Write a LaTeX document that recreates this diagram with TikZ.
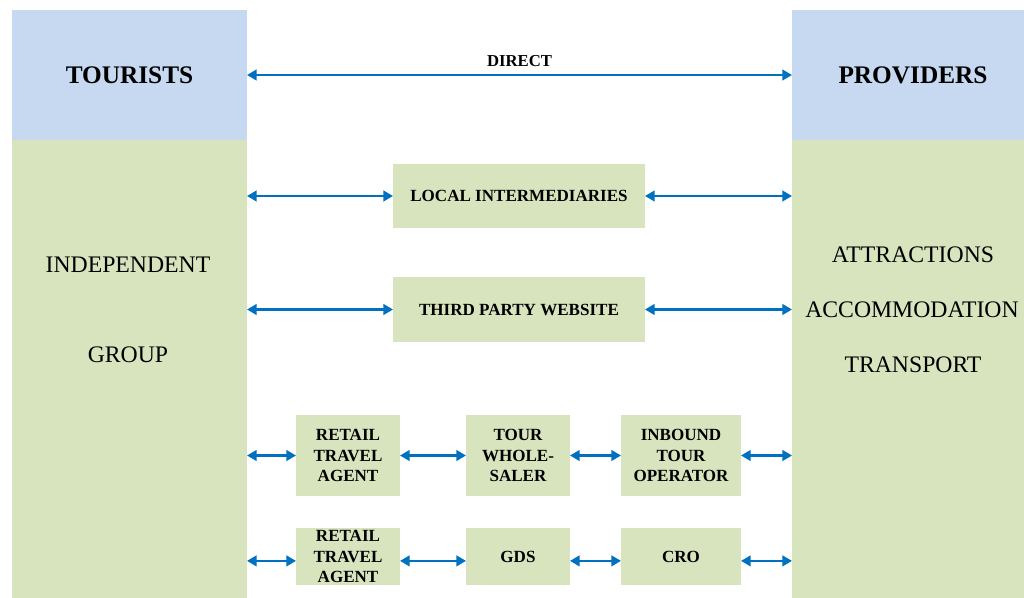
\documentclass[tikz,border=0pt]{standalone}
\usepackage{fontspec}
\setmainfont{Liberation Serif}
\usetikzlibrary{arrows.meta}
\definecolor{hdrblue}{RGB}{198,217,240}
\definecolor{boxgreen}{RGB}{215,228,189}
\definecolor{arrblue}{RGB}{0,112,192}
\begin{document}
\begin{tikzpicture}[x=0.02cm,y=-0.02cm,
  panel/.style={rectangle, inner sep=0pt, outer sep=0pt},
  hdr/.style={panel, fill=hdrblue, font=\fontsize{14.4}{17}\selectfont\bfseries},
  col/.style={panel, fill=boxgreen},
  box/.style={panel, fill=boxgreen, font=\fontsize{9.7}{11.7}\selectfont\bfseries, align=center},
  big/.style={inner sep=0pt, font=\fontsize{13.5}{16}\selectfont},
  lbl/.style={inner sep=0pt, font=\fontsize{9.5}{11}\selectfont\bfseries},
  link/.style={draw=arrblue, line width=1.4pt, {Triangle[width=6pt,length=5.5pt]}-{Triangle[width=6pt,length=5.5pt]}},
  low/.style={yshift=-2.5pt}
]
\useasboundingbox (0,0) rectangle (1024,598);
% columns
\node[hdr, minimum width=4.7cm, minimum height=2.6cm] (tour) at (129.5,75) {TOURISTS};
\node[col, minimum width=4.7cm, minimum height=9.16cm] (tcol) at (129.5,369) {};
\node[hdr, minimum width=4.64cm, minimum height=2.6cm] (prov) at (908,75) {\hspace*{5.7pt}PROVIDERS};
\node[col, minimum width=4.64cm, minimum height=9.16cm] (pcol) at (908,369) {};
% column texts
\node[big] (indep) at (128,265) {INDEPENDENT};
\node[big] (group) at (128,355) {GROUP};
\node[big] (attr) at (913,255) {ATTRACTIONS};
\node[big] (accom) at (912,310) {ACCOMMODATION};
\node[big] (trans) at (913,365) {TRANSPORT};
% middle boxes
\node[box, minimum width=5.04cm, minimum height=1.28cm] (local) at (519,196) {LOCAL INTERMEDIARIES};
\node[box, minimum width=5.04cm, minimum height=1.3cm] (third) at (519,309.5) {THIRD PARTY WEBSITE};
\node[box, minimum width=2.08cm, minimum height=1.62cm] (rta1) at (348,455.5) {RETAIL\\TRAVEL\\AGENT};
\node[box, minimum width=2.08cm, minimum height=1.62cm] (tws) at (518,455.5) {TOUR\\WHOLE-\\SALER};
\node[box, minimum width=2.4cm, minimum height=1.62cm] (ito) at (681,455.5) {INBOUND\\TOUR\\OPERATOR};
\node[box, minimum width=2.08cm, minimum height=1.14cm] (rta2) at (348,556.5) {RETAIL\\TRAVEL\\AGENT};
\node[box, minimum width=2.08cm, minimum height=1.14cm] (gds) at (518,556.5) {GDS};
\node[box, minimum width=2.4cm, minimum height=1.14cm] (cro) at (681,556.5) {CRO};
% connectors
\draw[link] (tour.east) -- node[lbl, yshift=0.28cm] (direct) {DIRECT} (tour.east -| prov.west);
\draw[link] (local.west -| tcol.east) -- (local.west);
\draw[link] (local.east) -- (local.east -| pcol.west);
\draw[link] (third.west -| tcol.east) -- (third.west);
\draw[link] (third.east) -- (third.east -| pcol.west);
\draw[link] (rta1.west -| tcol.east) -- (rta1.west);
\draw[link] (rta1.east) -- (tws.west);
\draw[link] (tws.east) -- (ito.west);
\draw[link] (ito.east) -- (ito.east -| pcol.west);
\draw[link] ([low]rta2.west -| tcol.east) -- ([low]rta2.west);
\draw[link] ([low]rta2.east) -- ([low]gds.west);
\draw[link] ([low]gds.east) -- ([low]cro.west);
\draw[link] ([low]cro.east) -- ([low]cro.east -| pcol.west);
\end{tikzpicture}
\end{document}
